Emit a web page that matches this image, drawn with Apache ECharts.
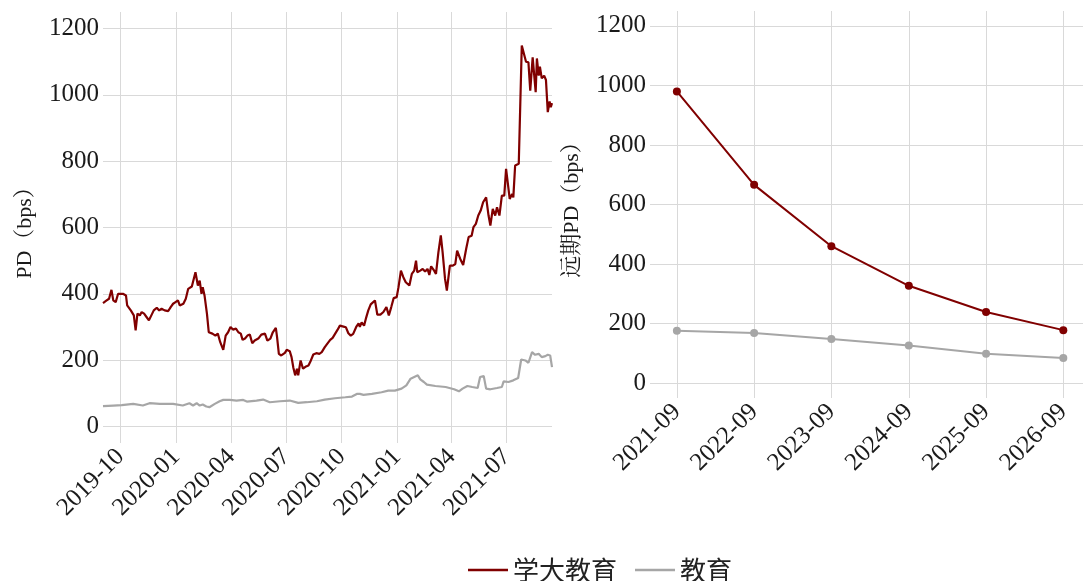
<!DOCTYPE html>
<html><head><meta charset="utf-8">
<script src="https://cdn.jsdelivr.net/npm/echarts@6/dist/echarts.min.js"></script>
<style>html,body{margin:0;padding:0;background:#fff}#c{width:1092px;height:581px}</style>
</head><body><div id="c"></div>
<script>
const seriesNames = ['学大教育', '教育'];
const xueDaDates = ['2019-09-02','2019-09-08','2019-09-12','2019-09-16','2019-09-19','2019-09-23','2019-09-27','2019-10-05','2019-10-10','2019-10-12','2019-10-15','2019-10-18','2019-10-21','2019-10-23','2019-10-26','2019-10-29','2019-11-02','2019-11-05','2019-11-09','2019-11-13','2019-11-17','2019-11-21','2019-11-25','2019-11-30','2019-12-04','2019-12-08','2019-12-13','2019-12-19','2019-12-23','2019-12-27','2019-12-31','2020-01-04','2020-01-07','2020-01-13','2020-01-17','2020-01-21','2020-01-27','2020-01-30','2020-02-02','2020-02-06','2020-02-09','2020-02-12','2020-02-14','2020-02-17','2020-02-21','2020-02-24','2020-03-01','2020-03-06','2020-03-10','2020-03-14','2020-03-19','2020-03-23','2020-03-27','2020-03-31','2020-04-04','2020-04-09','2020-04-13','2020-04-17','2020-04-20','2020-04-24','2020-04-28','2020-05-02','2020-05-06','2020-05-10','2020-05-16','2020-05-21','2020-05-27','2020-05-31','2020-06-05','2020-06-09','2020-06-14','2020-06-16','2020-06-19','2020-06-23','2020-06-29','2020-07-02','2020-07-07','2020-07-10','2020-07-13','2020-07-16','2020-07-19','2020-07-21','2020-07-25','2020-07-29','2020-08-03','2020-08-07','2020-08-11','2020-08-15','2020-08-20','2020-08-25','2020-08-29','2020-09-03','2020-09-07','2020-09-12','2020-09-16','2020-09-20','2020-09-24','2020-09-28','2020-10-04','2020-10-08','2020-10-12','2020-10-16','2020-10-20','2020-10-25','2020-10-29','2020-10-31','2020-11-03','2020-11-07','2020-11-10','2020-11-14','2020-11-18','2020-11-21','2020-11-25','2020-11-27','2020-11-29','2020-12-04','2020-12-09','2020-12-14','2020-12-18','2020-12-22','2020-12-26','2020-12-31','2021-01-03','2021-01-07','2021-01-11','2021-01-15','2021-01-18','2021-01-21','2021-01-25','2021-01-29','2021-02-01','2021-02-03','2021-02-08','2021-02-12','2021-02-16','2021-02-20','2021-02-23','2021-02-26','2021-03-03','2021-03-06','2021-03-10','2021-03-14','2021-03-17','2021-03-21','2021-03-24','2021-03-27','2021-03-29','2021-04-03','2021-04-07','2021-04-10','2021-04-15','2021-04-20','2021-04-25','2021-04-29','2021-05-04','2021-05-07','2021-05-11','2021-05-15','2021-05-19','2021-05-23','2021-05-28','2021-06-01','2021-06-04','2021-06-08','2021-06-12','2021-06-15','2021-06-19','2021-06-23','2021-06-27','2021-06-30','2021-07-02','2021-07-06','2021-07-10','2021-07-12','2021-07-15','2021-07-21','2021-07-23','2021-07-26','2021-07-29','2021-08-02','2021-08-06','2021-08-09','2021-08-13','2021-08-16','2021-08-18','2021-08-20','2021-08-23','2021-08-25','2021-08-28','2021-09-01','2021-09-04','2021-09-07','2021-09-10','2021-09-12','2021-09-14'];
const xueDaValues = [372,380,385,412,380,375,400,400,395,365,370,350,355,335,290,340,335,345,340,330,320,335,350,358,350,355,350,348,360,370,375,380,365,370,385,415,422,422,465,425,440,400,420,395,340,284,280,274,280,254,231,274,284,300,292,295,284,280,261,265,274,277,251,259,265,277,280,259,265,284,297,270,219,214,222,231,227,209,177,154,174,154,199,174,181,184,199,217,221,219,224,239,249,261,267,279,291,304,301,299,281,274,279,300,311,300,314,304,325,350,368,365,380,380,337,337,345,360,335,360,387,390,420,470,450,435,440,425,460,470,500,465,470,475,467,475,457,483,470,460,525,576,525,445,410,410,485,485,490,530,506,487,536,571,575,601,611,636,651,676,691,636,606,656,636,661,636,696,696,777,782,686,701,691,787,792,792,1149,1144,1100,1098,1013,1113,1115,1008,1110,1058,1085,1050,1058,1045,948,980,963,975];
const eduDates = ['2019-09-02','2019-09-19','2019-10-03','2019-10-22','2019-11-07','2019-11-18','2019-12-05','2019-12-27','2020-01-12','2020-01-23','2020-01-29','2020-02-04','2020-02-09','2020-02-14','2020-02-20','2020-02-25','2020-03-05','2020-03-13','2020-03-19','2020-03-30','2020-04-10','2020-04-21','2020-04-27','2020-05-13','2020-05-24','2020-06-04','2020-06-21','2020-07-07','2020-07-21','2020-08-04','2020-08-21','2020-09-03','2020-09-20','2020-10-07','2020-10-18','2020-10-26','2020-10-31','2020-11-06','2020-11-20','2020-12-06','2020-12-17','2020-12-28','2021-01-08','2021-01-16','2021-01-23','2021-01-29','2021-02-04','2021-02-08','2021-02-14','2021-02-19','2021-03-05','2021-03-22','2021-04-05','2021-04-13','2021-04-19','2021-04-27','2021-05-05','2021-05-14','2021-05-18','2021-05-24','2021-05-28','2021-06-04','2021-06-15','2021-06-23','2021-06-26','2021-07-04','2021-07-12','2021-07-20','2021-07-25','2021-08-01','2021-08-06','2021-08-12','2021-08-17','2021-08-23','2021-08-28','2021-09-03','2021-09-07','2021-09-11','2021-09-14'];
const eduValues = [61,63,64,68,63,70,68,68,63,70,63,70,63,66,60,58,68,76,80,80,78,80,75,78,81,73,76,78,71,73,76,81,85,88,90,98,98,95,98,103,108,108,114,124,144,149,154,142,134,126,122,119,112,106,114,122,119,116,149,152,114,112,116,119,136,134,139,146,202,199,192,224,216,219,209,212,216,214,179];
const histTickLabels = ['2019-10','2020-01','2020-04','2020-07','2020-10','2021-01','2021-04','2021-07'];
const fwdDates = ['2021-09','2022-09','2023-09','2024-09','2025-09','2026-09'];
const fwdXueDa = [980,666,460,327,239,178];
const fwdEdu = [176,168,148,126,99,84];
const yTickValues = [0,200,400,600,800,1000,1200];

function ym(s){const p=s.split('-');return new Date(+p[0],+p[1]-1,p[2]?+p[2]:1).getTime();}
function fmtYM(v){const d=new Date(v+43200000);return d.getFullYear()+'-'+String(d.getMonth()+1).padStart(2,'0');}

const RED='#800000', GRAY='#a6a6a6', GRID='#d9d9d9', TXT='#1a1a1a';
const SERIF="'Liberation Serif','Noto Serif CJK SC','Noto Sans CJK SC',serif";

function yAxis(gi,name){
  return {type:'value',gridIndex:gi,min:-50,max:1250,
    name:name,nameLocation:'middle',nameRotate:90,nameGap:67,
    nameTextStyle:{fontSize:22,fontFamily:SERIF,color:TXT},
    axisLine:{show:false},axisTick:{show:false,customValues:yTickValues},
    axisLabel:{customValues:yTickValues,margin:4,fontSize:25,fontFamily:SERIF,color:TXT,formatter:v=>String(Math.round(v))},
    splitLine:{show:true,lineStyle:{color:GRID,width:1}}};
}
function xAxis(gi,min,max,ticks){
  return {type:'value',gridIndex:gi,min:min,max:max,scale:true,
    axisLine:{show:false},axisTick:{show:false,customValues:ticks},
    axisLabel:{customValues:ticks,rotate:45,margin:10,fontSize:25,fontFamily:SERIF,color:TXT,formatter:fmtYM},
    splitLine:{show:true,lineStyle:{color:GRID,width:1}}};
}

const chart = echarts.init(document.getElementById('c'));
chart.setOption({
  animation:false,
  backgroundColor:'#fff',
  grid:[
    {left:103,right:540,top:12,bottom:138,outerBoundsMode:'none',containLabel:false},
    {left:650,right:9,top:11,bottom:183,outerBoundsMode:'none',containLabel:false}
  ],
  xAxis:[
    xAxis(0,ym(xueDaDates[0]),ym(xueDaDates[xueDaDates.length-1]),histTickLabels.map(ym)),
    xAxis(1,ym('2021-04-27'),ym('2026-12-03'),fwdDates.map(ym))
  ],
  yAxis:[yAxis(0,'PD（bps）'),yAxis(1,'远期PD（bps）')],
  legend:{data:seriesNames,left:463,top:552,icon:'rect',itemWidth:40,itemHeight:2.5,itemGap:18,
    textStyle:{fontSize:26,fontFamily:"'Noto Sans CJK SC',sans-serif",color:'#222',padding:[0,0,0,0]}},
  series:[
    {name:seriesNames[0],type:'line',xAxisIndex:0,yAxisIndex:0,showSymbol:false,
      data:xueDaDates.map((d,i)=>[ym(d),xueDaValues[i]]),lineStyle:{color:RED,width:2.2},itemStyle:{color:RED}},
    {name:seriesNames[1],type:'line',xAxisIndex:0,yAxisIndex:0,showSymbol:false,
      data:eduDates.map((d,i)=>[ym(d),eduValues[i]]),lineStyle:{color:GRAY,width:2.2},itemStyle:{color:GRAY}},
    {name:seriesNames[0],type:'line',xAxisIndex:1,yAxisIndex:1,symbol:'circle',symbolSize:8,
      data:fwdDates.map((d,i)=>[ym(d),fwdXueDa[i]]),lineStyle:{color:RED,width:2},itemStyle:{color:RED}},
    {name:seriesNames[1],type:'line',xAxisIndex:1,yAxisIndex:1,symbol:'circle',symbolSize:8,
      data:fwdDates.map((d,i)=>[ym(d),fwdEdu[i]]),lineStyle:{color:GRAY,width:2},itemStyle:{color:GRAY}}
  ]
});
</script></body></html>
